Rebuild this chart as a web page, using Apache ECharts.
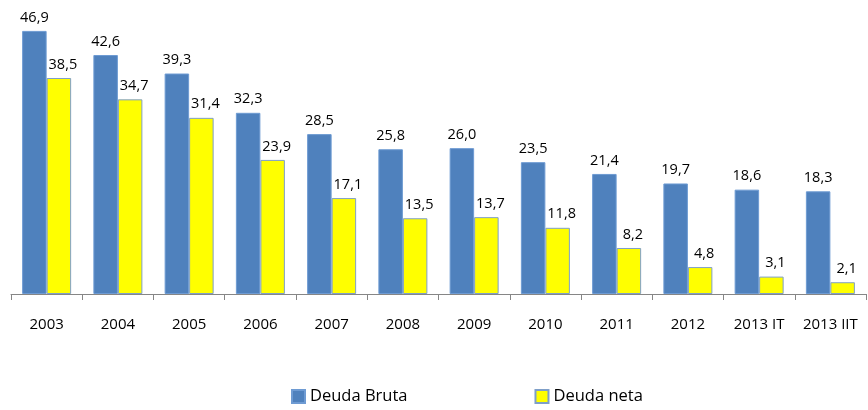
<!DOCTYPE html>
<html>
<head>
<meta charset="utf-8">
<script src="https://cdn.jsdelivr.net/npm/echarts@6/dist/echarts.min.js"></script>
<style>html,body{margin:0;padding:0;background:#fff;}#c{width:868px;height:410px;}</style>
</head>
<body>
<div id="c"></div>
<script>
var categories = ['2003','2004','2005','2006','2007','2008','2009','2010','2011','2012','2013 IT','2013 IIT'];
var deudaBruta = [46.9,42.6,39.3,32.3,28.5,25.8,26.0,23.5,21.4,19.7,18.6,18.3];
var deudaNeta = [38.5,34.7,31.4,23.9,17.1,13.5,13.7,11.8,8.2,4.8,3.1,2.1];
var seriesNames = ['Deuda Bruta','Deuda neta'];

var font = '"Open Sans", Lato, sans-serif';
function fmt(p){ return p.value.toFixed(1).replace('.', ','); }
var chart = echarts.init(document.getElementById('c'));
chart.setOption({
  animation: false,
  textStyle: {fontFamily: font},
  grid: {left: 11, right: 2, top: 13.5, bottom: 116, containLabel: false},
  legend: {
    data: seriesNames,
    left: 286, top: 383,
    itemWidth: 13, itemHeight: 13, itemGap: 127,
    textStyle: {fontFamily: font, fontSize: 16.5, color: '#000'},
    icon: 'rect'
  },
  xAxis: {
    type: 'category', data: categories,
    axisLine: {lineStyle: {color: '#868686', width: 1}},
    axisTick: {show: true, length: 6, lineStyle: {color: '#868686'}},
    axisLabel: {fontFamily: font, fontSize: 15, color: '#000', margin: 23, interval: 0}
  },
  yAxis: {
    type: 'value', min: 0, max: 50, show: false,
    splitLine: {show: false}
  },
  series: [
    {name: seriesNames[0], type: 'bar', data: deudaBruta, barWidth: 24.5, barGap: '0%',
     itemStyle: {color: '#4F81BD', borderColor: '#6E9BD3', borderWidth: 1},
     label: {show: true, position: 'top', distance: 6, formatter: fmt, fontFamily: font, fontSize: 14.5, color: '#000'}},
    {name: seriesNames[1], type: 'bar', data: deudaNeta, barWidth: 24.5,
     itemStyle: {color: '#FFFF00', borderColor: '#7F9FC8', borderWidth: 1},
     label: {show: true, position: 'top', distance: 6, offset: [4, 0], formatter: fmt, fontFamily: font, fontSize: 14.5, color: '#000'}}
  ]
});
</script>
</body>
</html>
